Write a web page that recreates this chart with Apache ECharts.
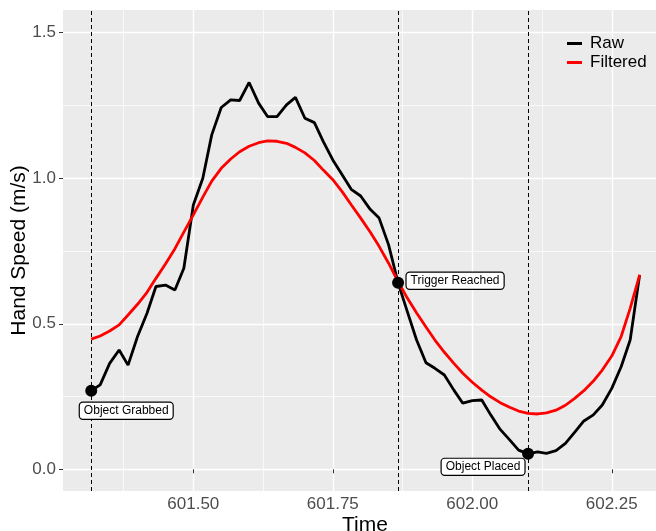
<!DOCTYPE html>
<html>
<head>
<meta charset="utf-8">
<script src="https://cdn.jsdelivr.net/npm/echarts@6/dist/echarts.min.js"></script>
<style>
html,body{margin:0;padding:0;background:#fff;}
#chart{width:656px;height:531px;}
</style>
</head>
<body>
<div id="chart"></div>
<script>
// ---- data ----
const times = [601.317,601.333,601.350,601.367,601.383,601.400,601.417,601.433,601.450,601.467,
  601.483,601.500,601.517,601.533,601.550,601.567,601.583,601.600,601.617,601.633,
  601.650,601.667,601.683,601.700,601.717,601.733,601.750,601.767,601.783,601.800,
  601.817,601.833,601.850,601.867,601.883,601.900,601.917,601.933,601.950,601.967,
  601.983,602.000,602.017,602.033,602.050,602.067,602.083,602.100,602.117,602.133,
  602.150,602.167,602.183,602.200,602.217,602.233,602.250,602.267,602.283,602.300];
const rawSpeed = [0.270,0.290,0.364,0.410,0.358,0.456,0.536,0.628,0.633,0.616,
  0.691,0.908,1.000,1.149,1.243,1.269,1.267,1.329,1.258,1.212,
  1.212,1.252,1.278,1.206,1.191,1.126,1.063,1.011,0.962,0.939,
  0.893,0.863,0.771,0.641,0.545,0.445,0.366,0.347,0.324,0.272,
  0.227,0.236,0.238,0.187,0.137,0.101,0.066,0.053,0.060,0.055,
  0.064,0.089,0.126,0.166,0.187,0.221,0.278,0.353,0.444,0.668];
const filteredSpeed = [0.447,0.458,0.475,0.496,0.530,0.567,0.608,0.656,0.705,0.758,
  0.815,0.874,0.935,0.990,1.034,1.066,1.091,1.110,1.122,1.128,
  1.127,1.120,1.106,1.087,1.061,1.028,0.995,0.953,0.909,0.863,
  0.815,0.766,0.708,0.645,0.590,0.538,0.489,0.444,0.402,0.364,
  0.330,0.299,0.272,0.249,0.229,0.213,0.200,0.192,0.190,0.194,
  0.203,0.220,0.243,0.270,0.303,0.341,0.389,0.457,0.553,0.668];
const eventTimes = [601.317, 601.867, 602.100];
const eventSpeeds = [0.270, 0.641, 0.053];
const eventLabels = ['Object Grabbed', 'Trigger Reached', 'Object Placed'];
const xMajorTicks = [601.50, 601.75, 602.00, 602.25];
const xMinorTicks = [601.375, 601.625, 601.875, 602.125];
const yMajorTicks = [0.0, 0.5, 1.0, 1.5];
const yMinorTicks = [0.25, 0.75, 1.25];
const seriesNames = ['Raw', 'Filtered'];

// ---- chart ----
const FONT = 'Liberation Sans, Arial, Helvetica, sans-serif';
const X_MIN = 601.2664, X_MAX = 602.3293;
const Y_MIN = -0.0746, Y_MAX = 1.578;
const labelOffsets = [[35, 20], [57, -2], [-45, 13]];

const chart = echarts.init(document.getElementById('chart'), null, {renderer: 'canvas'});

const baseX = {type: 'value', min: X_MIN, max: X_MAX, gridIndex: 0};
const baseY = {type: 'value', min: Y_MIN, max: Y_MAX, gridIndex: 0};

const option = {
  animation: false,
  backgroundColor: '#ffffff',
  textStyle: {fontFamily: FONT},
  grid: {
    left: 63, top: 10, right: 0, bottom: 40,
    containLabel: false,
    outerBoundsMode: 'none',
    show: true, backgroundColor: '#EBEBEB', borderWidth: 0
  },
  legend: {
    data: seriesNames,
    orient: 'vertical',
    left: 567, top: 35,
    padding: 0,
    itemWidth: 15, itemHeight: 3,
    itemGap: 2,
    icon: 'rect',
    textStyle: {fontFamily: FONT, fontSize: 17, color: '#000', lineHeight: 17, padding: [0, 0, 0, 3]}
  },
  xAxis: [
    Object.assign({}, baseX, {
      name: 'Time',
      nameLocation: 'middle',
      nameGap: 24,
      nameMoveOverlap: false,
      nameTextStyle: {fontFamily: FONT, fontSize: 21, color: '#000', padding: [0, 0, 0, 11]},
      axisLine: {show: false},
      axisTick: {show: true, length: 4, customValues: xMajorTicks, lineStyle: {color: '#333333', width: 1}},
      axisLabel: {show: true, customValues: xMajorTicks, margin: 5, fontFamily: FONT, fontSize: 17, color: '#4D4D4D',
        formatter: v => Number(v).toFixed(2)},
      splitLine: {show: true, lineStyle: {color: '#ffffff', width: 1.4}},
      z: 1
    }),
    Object.assign({}, baseX, {
      position: 'bottom',
      axisLine: {show: false},
      axisTick: {show: false, customValues: xMinorTicks},
      axisLabel: {show: false},
      splitLine: {show: true, lineStyle: {color: '#ffffff', width: 0.7}},
      z: 0
    })
  ],
  yAxis: [
    Object.assign({}, baseY, {
      name: 'Hand Speed (m/s)',
      nameLocation: 'middle',
      nameGap: 33,
      nameMoveOverlap: false,
      nameTextStyle: {fontFamily: FONT, fontSize: 21, color: '#000'},
      axisLine: {show: false},
      axisTick: {show: true, length: 4, customValues: yMajorTicks, lineStyle: {color: '#333333', width: 1}},
      axisLabel: {show: true, customValues: yMajorTicks, margin: 7, fontFamily: FONT, fontSize: 17, color: '#4D4D4D',
        formatter: v => Number(v).toFixed(1)},
      splitLine: {show: true, lineStyle: {color: '#ffffff', width: 1.4}},
      z: 1
    }),
    Object.assign({}, baseY, {
      position: 'left',
      axisLine: {show: false},
      axisTick: {show: false, customValues: yMinorTicks},
      axisLabel: {show: false},
      splitLine: {show: true, lineStyle: {color: '#ffffff', width: 0.7}},
      z: 0
    })
  ],
  series: [
    {
      name: seriesNames[0],
      type: 'line',
      xAxisIndex: 0, yAxisIndex: 0,
      data: times.map((t, i) => [t, rawSpeed[i]]),
      showSymbol: false,
      symbol: 'none',
      lineStyle: {color: '#000000', width: 2.8},
      itemStyle: {color: '#000000'},
      z: 3
    },
    {
      name: seriesNames[1],
      type: 'line',
      xAxisIndex: 0, yAxisIndex: 0,
      data: times.map((t, i) => [t, filteredSpeed[i]]),
      showSymbol: false,
      symbol: 'none',
      lineStyle: {color: '#FF0000', width: 2.8},
      itemStyle: {color: '#FF0000'},
      z: 4
    },
    {
      name: 'Events',
      type: 'scatter',
      xAxisIndex: 0, yAxisIndex: 0,
      symbol: 'circle',
      symbolSize: 12,
      itemStyle: {color: '#000000', opacity: 1},
      z: 5,
      markLine: {
        silent: true,
        symbol: ['none', 'none'],
        label: {show: false},
        precision: 4,
        z: 2,
        lineStyle: {color: '#000000', width: 1, type: [4, 3]},
        data: eventTimes.map(t => ({xAxis: t}))
      },
      data: eventTimes.map((t, i) => ({
        value: [t, eventSpeeds[i]],
        label: {
          show: true,
          formatter: eventLabels[i],
          position: 'inside',
          offset: labelOffsets[i],
          fontFamily: FONT, fontSize: 12, color: '#000', lineHeight: 12,
          backgroundColor: '#ffffff', borderColor: '#000000', borderWidth: 1.2,
          borderRadius: 3, padding: [2, 4]
        }
      }))
    }
  ]
};
chart.setOption(option);
</script>
</body>
</html>
